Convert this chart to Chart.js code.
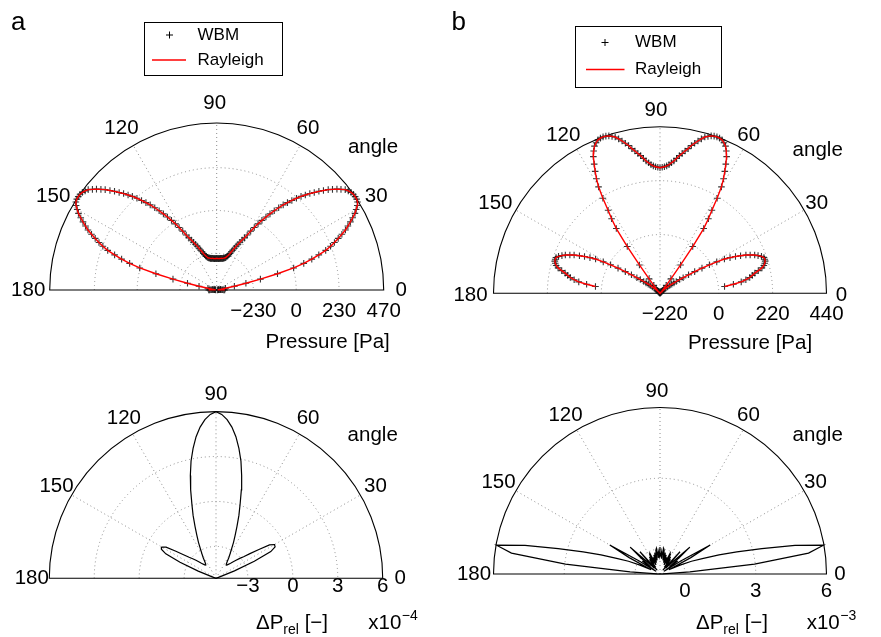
<!DOCTYPE html>
<html><head><meta charset="utf-8">
<script src="https://cdn.jsdelivr.net/npm/chart.js@4/dist/chart.umd.min.js"></script>
<style>
html,body{margin:0;padding:0;background:#fff;}
#wrap{position:relative;width:881px;height:637px;overflow:hidden;background:#fff;}
canvas{position:absolute;left:0;top:0;}
</style></head><body>
<div id="wrap">
<canvas id="cA1" width="881" height="637"></canvas>
<canvas id="cB1" width="881" height="637"></canvas>
<canvas id="cA2" width="881" height="637"></canvas>
<canvas id="cB2" width="881" height="637"></canvas>
</div>
<script>
// ---------- data ----------
const angleTickValues = [0,30,60,90,120,150,180];
const angleTickLabels = ['0','30','60','90','120','150','180'];

// angles [deg] of the WBM / Rayleigh samples (top row)
const anglesTopA = [0,1,2,3,4,5,6,7,8,9,10,11,12,13,14,15,16,17,18,19,20,21,22,23,24,25,26,27,28,29,30,31,32,33,34,35,36,37,38,39,40,41,42,43,44,45,46,47,48,49,50,51,52,53,54,55,56,57,58,59,60,61,62,63,64,65,66,67,68,69,70,71,72,73,74,75,76,77,78,79,80,81,82,83,84,85,86,87,88,89,90,91,92,93,94,95,96,97,98,99,100,101,102,103,104,105,106,107,108,109,110,111,112,113,114,115,116,117,118,119,120,121,122,123,124,125,126,127,128,129,130,131,132,133,134,135,136,137,138,139,140,141,142,143,144,145,146,147,148,149,150,151,152,153,154,155,156,157,158,159,160,161,162,163,164,165,166,167,168,169,170,171,172,173,174,175,176,177,178,179,180];
const anglesTopB = [6,7,8,9,10,11,12,13,14,15,16,17,18,19,20,21,22,23,24,25,26,27,28,29,30,31,32,33,34,35,36,37,38,39,40,41,42,43,44,45,46,47,48,49,50,51,52,53,54,55,56,57,58,59,60,61,62,63,64,65,66,67,68,69,70,71,72,73,74,75,76,77,78,79,80,81,82,83,84,85,86,87,88,89,90,91,92,93,94,95,96,97,98,99,100,101,102,103,104,105,106,107,108,109,110,111,112,113,114,115,116,117,118,119,120,121,122,123,124,125,126,127,128,129,130,131,132,133,134,135,136,137,138,139,140,141,142,143,144,145,146,147,148,149,150,151,152,153,154,155,156,157,158,159,160,161,162,163,164,165,166,167,168,169,170,171,172,173,174];
// angles [deg] of the relative-difference curves (bottom row)
const anglesBottom = [0,2,4,6,8,10,12,14,16,18,20,22,24,26,28,30,32,34,36,38,40,42,44,46,48,50,52,54,56,58,60,62,64,66,68,70,72,74,76,78,80,82,84,86,88,90,92,94,96,98,100,102,104,106,108,110,112,114,116,118,120,122,124,126,128,130,132,134,136,138,140,142,144,146,148,150,152,154,156,158,160,162,164,166,168,170,172,174,176,178,180];

// panel a, pressure [Pa]
const pressureA = [
 -384,-389,-395,-400,-406,-411,-416,-419,-422,-416,
 -406,-379,-330,-266,-185,-89,3,62,110,153,
 196,228,255,282,309,336,357,379,400,422,
 438,454,465,469,470,469,465,458,449,432,
 416,397,379,357,336,314,293,271,250,226,
 201,177,153,126,99,72,46,19,-8,-35,
 -62,-89,-110,-126,-142,-156,-169,-183,-196,-207,
 -218,-226,-234,-239,-244,-247,-250,-251,-252,-254,
 -255,-255,-255,-256,-257,-257,-258,-258,-258,-258,
 -257,
 -258,-258,-258,-258,-257,-257,-256,-255,-255,-255,
 -254,-252,-251,-250,-247,-244,-239,-234,-226,-218,
 -207,-196,-183,-169,-156,-142,-126,-110,-89,-62,
 -35,-8,19,46,72,99,126,153,177,201,
 226,250,271,293,314,336,357,379,397,416,
 432,449,458,465,469,470,469,465,454,438,
 422,400,379,357,336,309,282,255,228,196,
 153,110,62,3,-89,-185,-266,-330,-379,-406,
 -416,-422,-419,-416,-411,-406,-400,-395,-389,-384];
// panel b, pressure [Pa]
const pressureB = [
 25,62,95,115,132,144,156,172,189,199,
 205,209,210,209,201,189,177,160,144,123,
 103,81,58,25,-7,-40,-73,-101,-126,-142,
 -158,-169,-179,-189,-199,-209,-220,-228,-234,-238,
 -238,-236,-232,-228,-224,-215,-199,-166,-97,-7,
 79,123,160,213,262,295,324,352,381,401,
 418,428,436,439,440,439,436,430,424,413,
 401,389,377,362,350,338,328,315,303,295,
 287,281,277,275,273,
 275,277,281,287,295,303,315,328,338,350,
 362,377,389,401,413,424,430,436,439,440,
 439,436,428,418,401,381,352,324,295,262,
 213,160,123,79,-7,-97,-166,-199,-215,-224,
 -228,-232,-236,-238,-238,-234,-228,-220,-209,-199,
 -189,-179,-169,-158,-142,-126,-101,-73,-40,-7,
 25,58,81,103,123,144,160,177,189,201,
 209,210,209,205,199,189,172,156,144,132,
 115,95,62,25];
// panel a, relative difference (x1e-4)
const dPrelA = [-5.13,-5.13,-5.13,-5.13,-5.13,-5.13,-5.13,-5.13,-5.1,-5.05,-4.95,-3.8,-2.33,-1.06,-0.66,-0.62,-0.92,-1.72,-2.33,-2.79,-3.06,-3.33,-3.53,-3.73,-3.86,-3.96,-4.01,-3.96,-3.8,-3.53,-3.26,-2.93,-2.46,-1.99,-1.39,-0.66,0.08,1.01,1.95,2.88,3.68,4.42,5.02,5.49,5.82,6.0,
 5.82,5.49,5.02,4.42,3.68,2.88,1.95,1.01,0.08,-0.66,-1.39,-1.99,-2.46,-2.93,-3.26,-3.53,-3.8,-3.96,-4.01,-3.96,-3.86,-3.73,-3.53,-3.33,-3.1,-2.85,-2.45,-1.9,-1.2,-0.95,-1.0,-1.4,-2.5,-3.85,-4.95,-5.05,-5.1,-5.13,-5.13,-5.13,-5.13,-5.13,-5.13,-5.13,-5.13];
// panel b, relative difference (x1e-3)
const dPrelB = [-1.06,-0.93,0.21,2.97,5.30,5.98,4.79,3.39,2.33,1.57,0.85,0.38,-0.13,-0.64,0.42,1.40,0.0,-0.85,-0.13,-0.55,0.0,0.64,-0.42,-0.72,0.21,-0.64,-0.85,-0.30,-0.72,-0.21,-0.55,-0.13,-0.08,-0.64,-0.30,-0.55,-0.21,-0.42,-0.13,-0.47,-0.04,0.04,-0.38,-0.13,-0.30,0.08,
 -0.30,-0.13,-0.38,0.04,-0.04,-0.47,-0.13,-0.42,-0.21,-0.55,-0.30,-0.64,-0.08,-0.13,-0.55,-0.21,-0.72,-0.30,-0.85,-0.64,0.21,-0.72,-0.42,0.64,0.0,-0.55,-0.13,-0.85,0.0,1.40,0.42,-0.64,-0.13,0.38,0.85,1.57,2.33,3.39,4.79,5.98,5.30,2.97,0.21,-0.93,-1.06];

// radial axes
const ticksA1 = [-230,0,230,470];  const tickLabelsA1 = ['\u2212230','0','230','470'];
const ticksB1 = [-220,0,220,440];  const tickLabelsB1 = ['\u2212220','0','220','440'];
const ticksA2 = [-3,0,3,6];        const tickLabelsA2 = ['\u22123','0','3','6'];
const ticksB2 = [0,3,6];           const tickLabelsB2 = ['0','3','6'];
const ringsA1 = [-230,0,230]; const ringsB1 = [-220,0,220]; const ringsA2 = [-3,0,3]; const ringsB2 = [0,3];

// ---------- rendering ----------
const W = 881, H = 637;
const FONT = '"Liberation Sans", Arial, Helvetica, sans-serif';

function polarPoints(angles, vals, rMin, rMax) {
  return angles.map((a, i) => {
    const r = Math.max(0, (vals[i] - rMin) / (rMax - rMin));
    const t = a * Math.PI / 180;
    return { x: r * Math.cos(t), y: r * Math.sin(t) };
  });
}

const polarPlugin = {
  id: 'polarFrame',
  beforeDatasetsDraw(chart, args, o) {
    const ctx = chart.ctx, xs = chart.scales.x, ys = chart.scales.y;
    const cx = xs.getPixelForValue(0), cy = ys.getPixelForValue(0);
    const R = xs.getPixelForValue(1) - cx;
    ctx.save();
    ctx.strokeStyle = '#8c8c8c'; ctx.lineWidth = 1; ctx.setLineDash([1, 3]);
    o.rings.forEach(v => {
      const r = R * (v - o.rMin) / (o.rMax - o.rMin);
      if (r <= 1) return;
      ctx.beginPath(); ctx.arc(cx, cy, r, Math.PI, 2 * Math.PI); ctx.stroke();
    });
    [30, 60, 90, 120, 150].forEach(a => {
      const t = a * Math.PI / 180;
      ctx.beginPath(); ctx.moveTo(cx, cy); ctx.lineTo(cx + R * Math.cos(t), cy - R * Math.sin(t)); ctx.stroke();
    });
    ctx.setLineDash([]);
    ctx.strokeStyle = '#000'; ctx.lineWidth = 1.1;
    ctx.beginPath(); ctx.arc(cx, cy, R, Math.PI, 2 * Math.PI); ctx.closePath(); ctx.stroke();
    ctx.restore();
  },
  afterDraw(chart, args, o) {
    const ctx = chart.ctx, xs = chart.scales.x, ys = chart.scales.y;
    const cx = xs.getPixelForValue(0), cy = ys.getPixelForValue(0);
    const R = xs.getPixelForValue(1) - cx;
    ctx.save();
    ctx.fillStyle = '#000';
    ctx.font = '20.5px ' + FONT;
    ctx.textAlign = 'center'; ctx.textBaseline = 'middle';
    angleTickValues.forEach((a, i) => {
      const t = a * Math.PI / 180, rr = R + o.angleGap;
      ctx.fillText(angleTickLabels[i], cx + rr * Math.cos(t) + o.angleShift, cy - rr * Math.sin(t) + o.angleShiftY);
    });
    o.ticks.forEach((v, i) => {
      const r = R * (v - o.rMin) / (o.rMax - o.rMin);
      ctx.fillText(o.tickLabels[i], cx + r, o.tickY);
    });
    ctx.fillText('angle', o.angleTitle[0], o.angleTitle[1]);
    if (o.title) {
      ctx.fillText(o.title, o.titleX, o.titleY);
    } else {
      const big = '20.5px ' + FONT, small = '14px ' + FONT;
      ctx.textAlign = 'left'; ctx.textBaseline = 'alphabetic';
      ctx.font = big; const w1 = ctx.measureText('\u0394P').width;
      ctx.font = small; const w2 = ctx.measureText('rel').width;
      ctx.font = big; const w3 = ctx.measureText(' [\u2212]').width;
      let x = o.titleX - (w1 + w2 + w3) / 2;
      ctx.font = big; ctx.fillText('\u0394P', x, o.titleBase); x += w1;
      ctx.font = small; ctx.fillText('rel', x, o.titleBase + 5); x += w2;
      ctx.font = big; ctx.fillText(' [\u2212]', x, o.titleBase);
      let x2 = o.expX;
      ctx.fillText('x10', x2, o.titleBase); x2 += ctx.measureText('x10').width;
      ctx.font = small; ctx.fillText(o.expText, x2 + 0.5, o.titleBase - 9);
    }
    if (o.letter) {
      ctx.font = '26px ' + FONT; ctx.textAlign = 'left'; ctx.textBaseline = 'alphabetic';
      ctx.fillText(o.letter, o.letterX, o.letterY);
    }
    if (o.legend) {
      const L = o.legend;
      ctx.strokeStyle = '#000'; ctx.lineWidth = 1;
      ctx.strokeRect(L.box[0] + 0.5, L.box[1] + 0.5, L.box[2] - L.box[0], L.box[3] - L.box[1]);
      ctx.beginPath();
      ctx.moveTo(L.markX - 3.5, L.wbmY); ctx.lineTo(L.markX + 3.5, L.wbmY);
      ctx.moveTo(L.markX, L.wbmY - 3.5); ctx.lineTo(L.markX, L.wbmY + 3.5);
      ctx.stroke();
      ctx.strokeStyle = '#ff0000'; ctx.lineWidth = 1.3;
      ctx.beginPath(); ctx.moveTo(L.lineX0, L.rayY); ctx.lineTo(L.lineX1, L.rayY); ctx.stroke();
      ctx.font = '17px ' + FONT; ctx.textAlign = 'left'; ctx.textBaseline = 'middle';
      ctx.fillText('WBM', L.textX, L.wbmY);
      ctx.fillText('Rayleigh', L.textX, L.rayY);
    }
    ctx.restore();
  }
};

function makeChart(id, P, datasets) {
  const padding = { left: P.cx - P.R, right: W - (P.cx + P.R), top: P.cy - P.R, bottom: H - P.cy };
  return new Chart(document.getElementById(id), {
    type: 'scatter',
    data: { datasets },
    options: {
      responsive: false, animation: false, devicePixelRatio: 1, events: [],
      layout: { padding },
      scales: {
        x: { type: 'linear', min: -1, max: 1, display: false },
        y: { type: 'linear', min: 0, max: 1, display: false }
      },
      plugins: { legend: { display: false }, tooltip: { enabled: false }, polarFrame: P }
    },
    plugins: [polarPlugin]
  });
}

function topDatasets(angles, vals, P) {
  const pts = polarPoints(angles, vals, P.rMin, P.rMax);
  return [
    { label: 'Rayleigh', data: pts, showLine: true, borderColor: '#ff0000', borderWidth: 1.4,
      pointRadius: 0, tension: 0, clip: false, order: 0 },
    { label: 'WBM', data: pts, showLine: false, pointStyle: 'cross', pointRadius: 3.3,
      borderColor: 'rgba(20,20,20,0.85)', backgroundColor: '#111', borderWidth: 1.1, clip: false, order: 1 }
  ];
}
function botDatasets(angles, vals, P) {
  const pts = polarPoints(angles, vals, P.rMin, P.rMax);
  return [{ label: 'dP', data: pts, showLine: true, borderColor: '#000', borderWidth: 1.2,
    pointRadius: 0, tension: 0, clip: false }];
}

const PA1 = { cx: 216.7, cy: 290, R: 167, rMin: -427, rMax: 470, rings: ringsA1, ticks: ticksA1, tickLabels: tickLabelsA1,
  tickY: 311, angleGap: 19.5, angleShift: -2, angleShiftY: 0, angleTitle: [373, 147], title: 'Pressure [Pa]', titleX: 327.7, titleY: 342.7,
  letter: 'a', letterX: 11, letterY: 29.5,
  legend: { box: [144, 22, 282, 75], markX: 169.5, wbmY: 35, lineX0: 152, lineX1: 186, rayY: 60, textX: 197.5 } };
const PB1 = { cx: 660, cy: 293.3, R: 166.5, rMin: -240, rMax: 440, rings: ringsB1, ticks: ticksB1, tickLabels: tickLabelsB1,
  tickY: 314.3, angleGap: 19, angleShift: -4, angleShiftY: 2.5, angleTitle: [817.7, 150.7], title: 'Pressure [Pa]', titleX: 750, titleY: 343.3,
  letter: 'b', letterX: 451.5, letterY: 29.5,
  legend: { box: [575, 26, 721, 87], markX: 605, wbmY: 42.5, lineX0: 586, lineX1: 624.5, rayY: 69.5, textX: 635 } };
const PA2 = { cx: 216, cy: 578.3, R: 166.7, rMin: -5.13, rMax: 6, rings: ringsA2, ticks: ticksA2, tickLabels: tickLabelsA2,
  tickY: 586.7, angleGap: 17.5, angleShift: 0, angleShiftY: 0, angleTitle: [372.7, 435.7], title: null, titleX: 292, titleBase: 628.5,
  expX: 368.3, expText: '\u22124' };
const PB2 = { cx: 660, cy: 574, R: 166.5, rMin: -1.06, rMax: 6, rings: ringsB2, ticks: ticksB2, tickLabels: tickLabelsB2,
  tickY: 591.7, angleGap: 16.5, angleShift: -3, angleShiftY: 0, angleTitle: [817.7, 435.7], title: null, titleX: 732, titleBase: 628.5,
  expX: 806.7, expText: '\u22123' };

makeChart('cA1', PA1, topDatasets(anglesTopA, pressureA, PA1));
makeChart('cB1', PB1, topDatasets(anglesTopB, pressureB, PB1));
makeChart('cA2', PA2, botDatasets(anglesBottom, dPrelA, PA2));
makeChart('cB2', PB2, botDatasets(anglesBottom, dPrelB, PB2));
</script>
</body></html>
